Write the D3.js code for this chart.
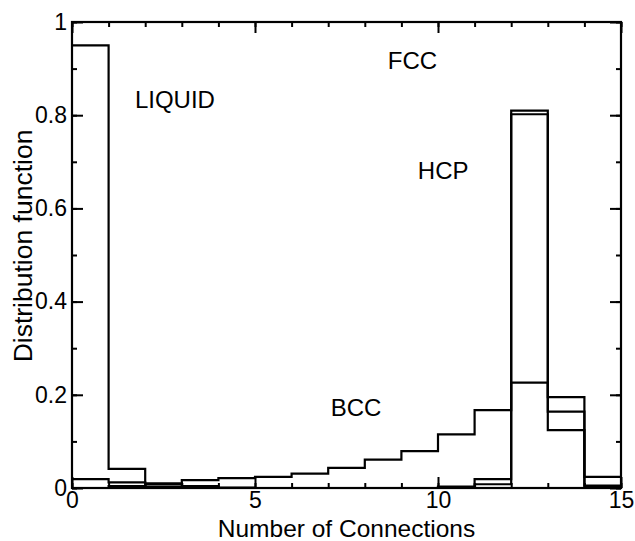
<!DOCTYPE html>
<html>
<head>
<meta charset="utf-8">
<script src="https://cdn.jsdelivr.net/npm/d3@7"></script>
<style>
  html, body { margin: 0; padding: 0; background: #fff; }
  svg text { font-family: "Liberation Sans", Arial, Helvetica, sans-serif; fill: #000; }
</style>
</head>
<body>
<svg id="chart" width="635" height="541"></svg>
<script>
// ---- data ----
const binEdges = [0,1,2,3,4,5,6,7,8,9,10,11,12,13,14,15];
const liquid = [0.95, 0.041, 0.010, 0.004, 0.001, 0, 0, 0, 0, 0, 0, 0, 0, 0, 0];
const bcc    = [0.019, 0.012, 0.008, 0.017, 0.021, 0.024, 0.031, 0.043, 0.061, 0.079, 0.115, 0.167, 0.226, 0.124, 0.024];
const fcc    = [0, 0.004, 0.003, 0, 0, 0, 0, 0, 0, 0, 0.002, 0.019, 0.810, 0.164, 0.005];
const hcp    = [0, 0, 0.002, 0, 0, 0, 0, 0, 0, 0, 0.003, 0.008, 0.802, 0.195, 0.003];
const xTickValues = [0, 5, 10, 15];
const yTickValues = [0, 0.2, 0.4, 0.6, 0.8, 1];
const yTickLabels = ["0", "0.2", "0.4", "0.6", "0.8", "1"];
const labels = [
  {text: "LIQUID", x: 1.72, y: 0.815},
  {text: "FCC",    x: 8.63, y: 0.90},
  {text: "HCP",    x: 9.45, y: 0.663},
  {text: "BCC",    x: 7.07, y: 0.154}
];

// ---- layout ----
const svg = d3.select("#chart");
const L = 72, R = 621, T = 22, B = 488;
const x = d3.scaleLinear().domain([0, 15]).range([L, R]);
const y = d3.scaleLinear().domain([0, 1]).range([B, T]);

// ---- series (step histograms) ----
const stepLine = d3.line()
  .x(d => x(d[0]))
  .y(d => y(d[1]))
  .curve(d3.curveStepAfter);

function pts(vals) {
  const p = vals.map((v, i) => [binEdges[i], v]);
  p.push([binEdges[vals.length], vals[vals.length - 1]]);
  return p;
}

[hcp, fcc, bcc, liquid].forEach(s => {
  svg.append("path")
    .attr("d", stepLine(pts(s)))
    .attr("fill", "none")
    .attr("stroke", "#000")
    .attr("stroke-width", 2.2);
});

// ---- axes / frame ----
const g = svg.append("g");
const minorX = d3.range(0, 16, 1);
const minorY = d3.range(0, 1.0001, 0.1).map(v => +v.toFixed(2));

// bottom
g.append("g").attr("transform", `translate(0,${B})`)
  .call(d3.axisBottom(x).tickValues(minorX).tickSize(-5).tickFormat(""))
  .call(a => a.select(".domain").remove());
g.append("g").attr("transform", `translate(0,${B})`)
  .call(d3.axisBottom(x).tickValues(xTickValues).tickSize(-11).tickPadding(4).tickFormat(d3.format("d")))
  .call(a => a.select(".domain").remove())
  .call(a => a.selectAll("text").attr("font-size", 23));
// top
g.append("g").attr("transform", `translate(0,${T})`)
  .call(d3.axisTop(x).tickValues(minorX).tickSize(-5).tickFormat(""))
  .call(a => a.select(".domain").remove());
g.append("g").attr("transform", `translate(0,${T})`)
  .call(d3.axisTop(x).tickValues(xTickValues).tickSize(-11).tickFormat(""))
  .call(a => a.select(".domain").remove());
// left
g.append("g").attr("transform", `translate(${L},0)`)
  .call(d3.axisLeft(y).tickValues(minorY).tickSize(-5).tickFormat(""))
  .call(a => a.select(".domain").remove());
g.append("g").attr("transform", `translate(${L},0)`)
  .call(d3.axisLeft(y).tickValues(yTickValues).tickSize(-11).tickPadding(5)
        .tickFormat((d, i) => yTickLabels[i]))
  .call(a => a.select(".domain").remove())
  .call(a => a.selectAll("text").attr("font-size", 23));
// right
g.append("g").attr("transform", `translate(${R},0)`)
  .call(d3.axisRight(y).tickValues(minorY).tickSize(-5).tickFormat(""))
  .call(a => a.select(".domain").remove());
g.append("g").attr("transform", `translate(${R},0)`)
  .call(d3.axisRight(y).tickValues(yTickValues).tickSize(-11).tickFormat(""))
  .call(a => a.select(".domain").remove());

g.selectAll(".tick line").attr("stroke", "#000").attr("stroke-width", 2);

g.append("rect")
  .attr("x", L).attr("y", T).attr("width", R - L).attr("height", B - T)
  .attr("fill", "none").attr("stroke", "#000").attr("stroke-width", 2.2);

// ---- axis titles ----
svg.append("text")
  .attr("x", (L + R) / 2).attr("y", 537)
  .attr("text-anchor", "middle").attr("font-size", 24.5)
  .text("Number of Connections");
svg.append("text")
  .attr("transform", `translate(32,246) rotate(-90)`)
  .attr("text-anchor", "middle").attr("font-size", 26.5)
  .text("Distribution function");

// ---- annotations ----
labels.forEach(d => {
  svg.append("text")
    .attr("x", x(d.x)).attr("y", y(d.y))
    .attr("font-size", 24)
    .text(d.text);
});
</script>
</body>
</html>
